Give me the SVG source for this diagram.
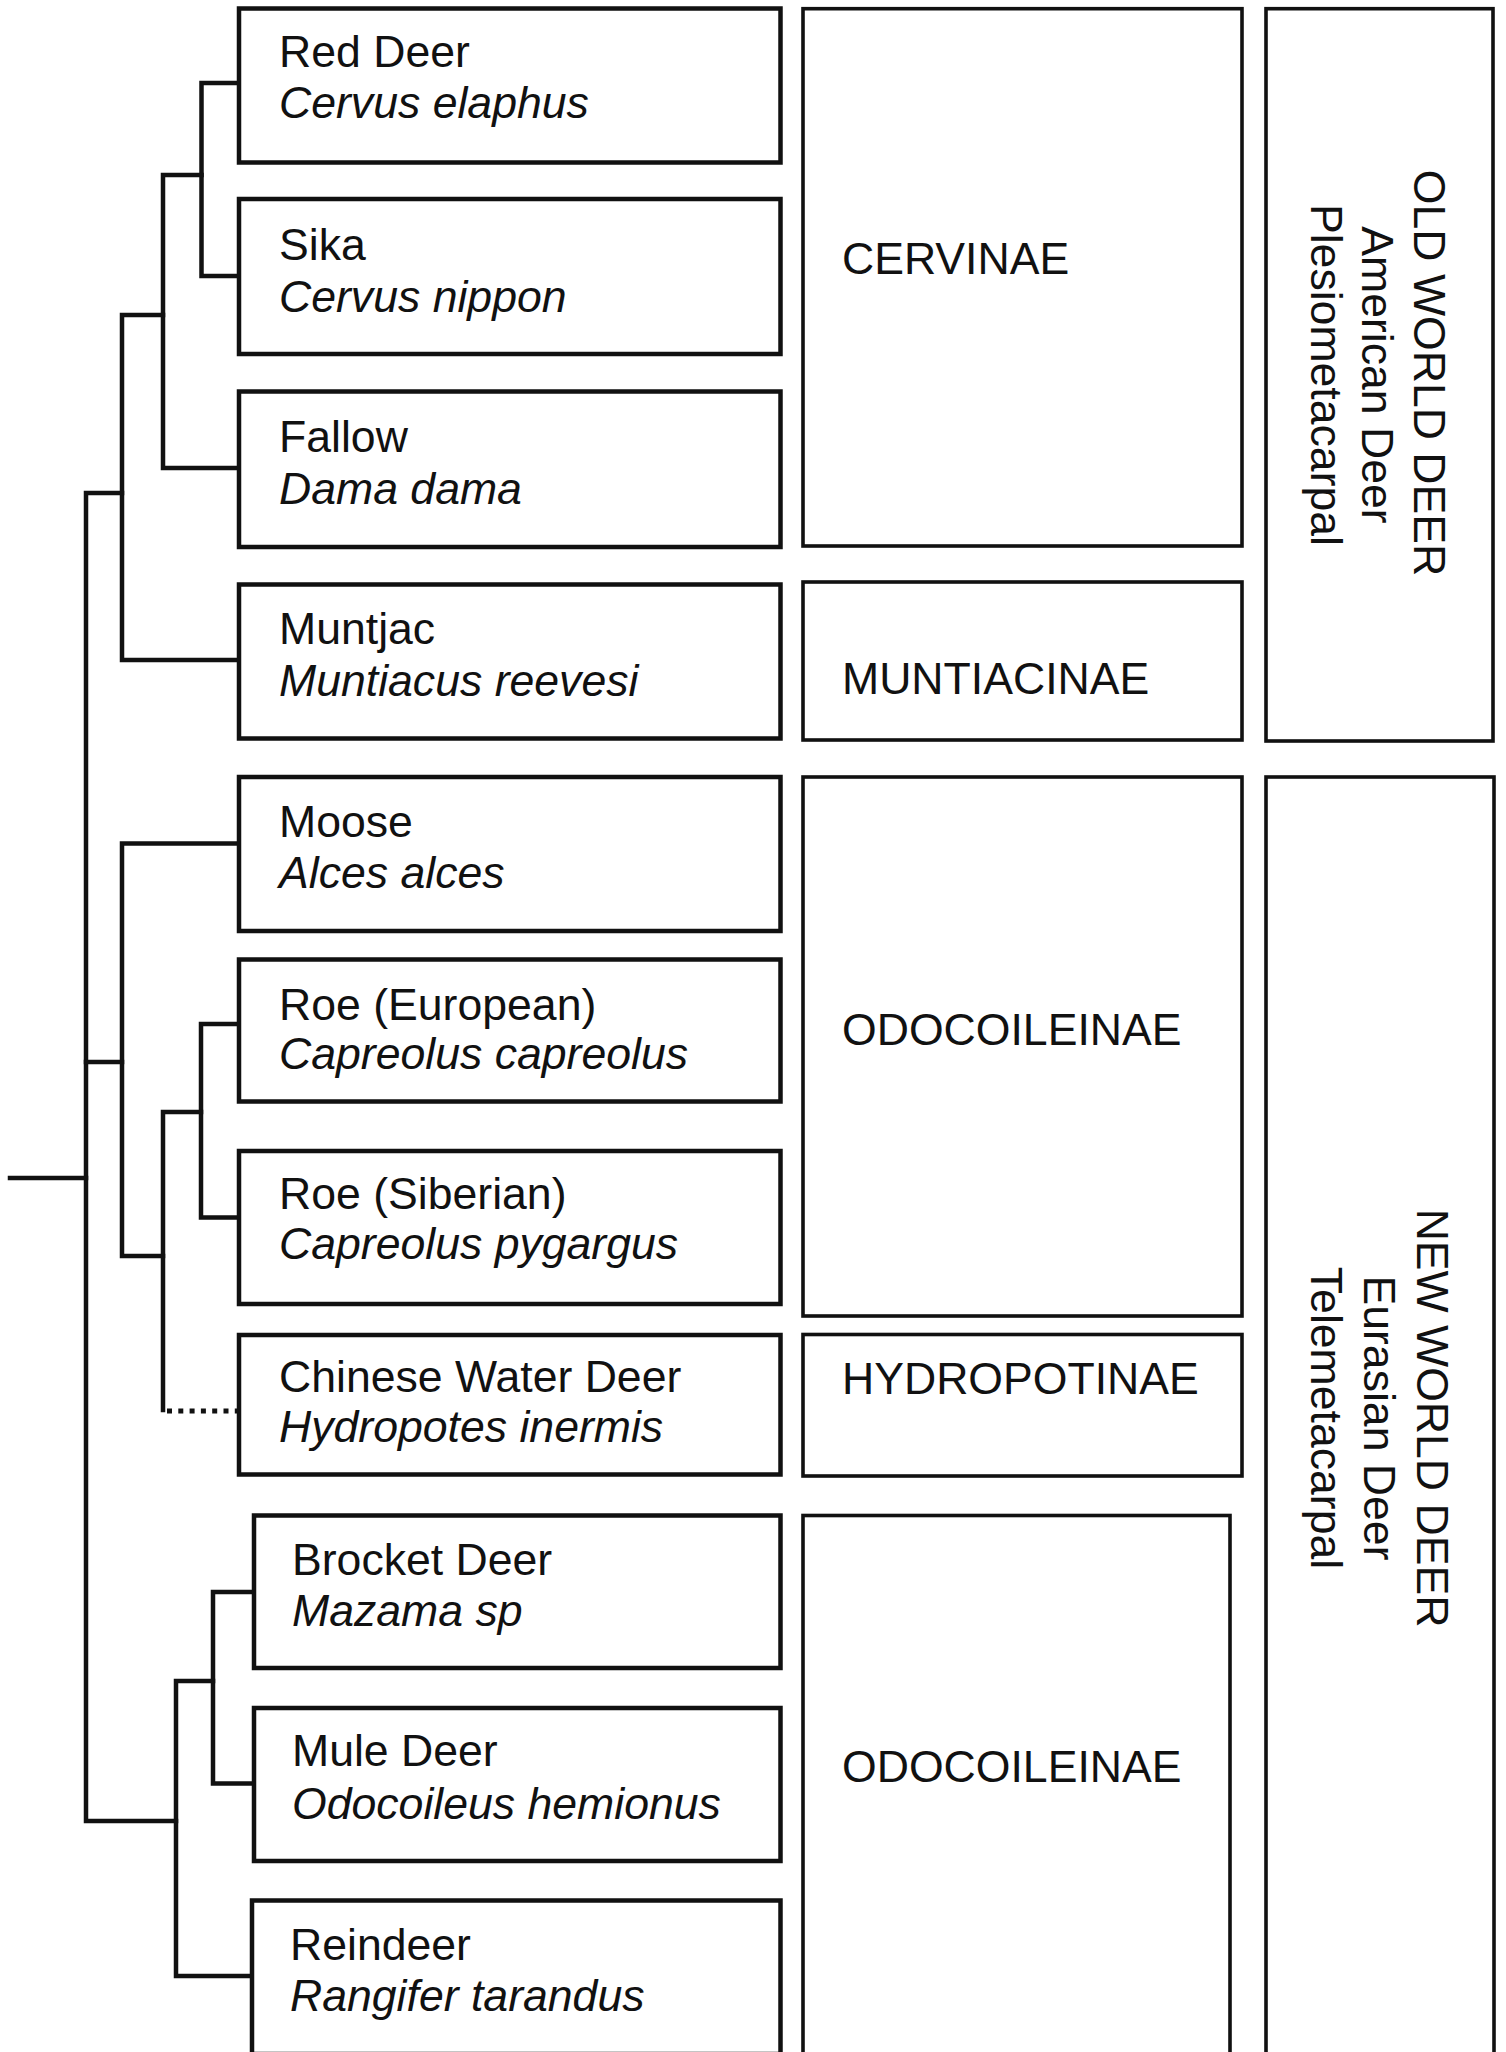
<svg xmlns="http://www.w3.org/2000/svg" width="1506" height="2052" viewBox="0 0 1506 2052">
<style>
.bg{fill:#fff}
.sp{fill:#fff;stroke:#111;stroke-width:4.5}
.fam{fill:#fff;stroke:#111;stroke-width:3.6}
.t{font-family:"Liberation Sans",Arial,sans-serif;font-size:44.6px;fill:#111}
.i{font-style:italic}
.ln{fill:none;stroke:#111;stroke-width:4.5;stroke-linecap:square;stroke-linejoin:miter}
.dot{fill:none;stroke:#111;stroke-width:5;stroke-dasharray:5 6.3}
</style>
<rect class="bg" x="0" y="0" width="1506" height="2052"/>
<g id="connectors">
<path class="ln" d="M239,83 H201.5 V276 H239"/>
<path class="ln" d="M201.5,175 H163 V468 H239"/>
<path class="ln" d="M163,315 H122 V660 H239"/>
<path class="ln" d="M122,493 H86 V1821 H176"/>
<path class="ln" d="M10,1178 H86"/>
<path class="ln" d="M86,1062 H122"/>
<path class="ln" d="M239,843.5 H122 V1256 H163"/>
<path class="ln" d="M239,1024 H201 V1217.5 H239"/>
<path class="ln" d="M201,1112 H163 V1410"/>
<path class="dot" d="M167,1411 H239"/>
<path class="ln" d="M254,1592 H213 V1783.5 H254"/>
<path class="ln" d="M213,1681 H176 V1976 H252"/>
</g>
<g id="red-deer"><rect class="sp" x="239" y="8.5" width="541.5" height="154"/><text class="t" x="279" y="67">Red Deer</text><text class="t i" x="279" y="118">Cervus elaphus</text></g>
<g id="sika"><rect class="sp" x="239" y="199" width="541.5" height="155"/><text class="t" x="279" y="259.5">Sika</text><text class="t i" x="279" y="312">Cervus nippon</text></g>
<g id="fallow"><rect class="sp" x="239" y="391.5" width="541.5" height="155.5"/><text class="t" x="279" y="452">Fallow</text><text class="t i" x="279" y="503.5">Dama dama</text></g>
<g id="muntjac"><rect class="sp" x="239" y="584.5" width="541.5" height="154"/><text class="t" x="279" y="644">Muntjac</text><text class="t i" x="279" y="696">Muntiacus reevesi</text></g>
<g id="moose"><rect class="sp" x="239" y="777" width="541.5" height="154"/><text class="t" x="279" y="836.5">Moose</text><text class="t i" x="279" y="888">Alces alces</text></g>
<g id="roe-european"><rect class="sp" x="239" y="959.5" width="541.5" height="142"/><text class="t" x="279" y="1020">Roe (European)</text><text class="t i" x="279" y="1068.5">Capreolus capreolus</text></g>
<g id="roe-siberian"><rect class="sp" x="239" y="1151" width="541.5" height="153"/><text class="t" x="279" y="1208.5">Roe (Siberian)</text><text class="t i" x="279" y="1259">Capreolus pygargus</text></g>
<g id="chinese-water-deer"><rect class="sp" x="239" y="1335" width="541.5" height="139.5"/><text class="t" x="279" y="1392">Chinese Water Deer</text><text class="t i" x="279" y="1441.5">Hydropotes inermis</text></g>
<g id="brocket-deer"><rect class="sp" x="254" y="1515.5" width="526.5" height="152.5"/><text class="t" x="292" y="1574.5">Brocket Deer</text><text class="t i" x="292" y="1625.5">Mazama sp</text></g>
<g id="mule-deer"><rect class="sp" x="254" y="1708" width="526.5" height="153"/><text class="t" x="292" y="1766">Mule Deer</text><text class="t i" x="292" y="1818.5">Odocoileus hemionus</text></g>
<g id="reindeer"><rect class="sp" x="252" y="1900.5" width="528.5" height="153.5"/><text class="t" x="290" y="1959.5">Reindeer</text><text class="t i" x="290" y="2010.5">Rangifer tarandus</text></g>
<g id="cervinae"><rect class="fam" x="803" y="8.7" width="439" height="537.3"/><text class="t" x="842" y="274">CERVINAE</text></g>
<g id="muntiacinae"><rect class="fam" x="803" y="582" width="439" height="158"/><text class="t" x="842" y="694">MUNTIACINAE</text></g>
<g id="odocoileinae-1"><rect class="fam" x="803" y="777" width="439" height="539"/><text class="t" x="842" y="1045">ODOCOILEINAE</text></g>
<g id="hydropotinae"><rect class="fam" x="803" y="1334.5" width="439" height="141.5"/><text class="t" x="842" y="1394">HYDROPOTINAE</text></g>
<g id="odocoileinae-2"><rect class="fam" x="803" y="1515.5" width="427" height="541"/><text class="t" x="842" y="1782">ODOCOILEINAE</text></g>
<g id="old-world-deer"><rect class="fam" x="1266" y="8.7" width="227" height="732.3"/>
<text class="t" text-anchor="middle" transform="translate(1414,373) rotate(90)">OLD WORLD DEER</text>
<text class="t" text-anchor="middle" transform="translate(1362,375) rotate(90)">American Deer</text>
<text class="t" text-anchor="middle" transform="translate(1311,375) rotate(90)">Plesiometacarpal</text></g>
<g id="new-world-deer"><rect class="fam" x="1266" y="777" width="228" height="1283"/>
<text class="t" text-anchor="middle" transform="translate(1417,1418) rotate(90)">NEW WORLD DEER</text>
<text class="t" text-anchor="middle" transform="translate(1364,1418) rotate(90)">Eurasian Deer</text>
<text class="t" text-anchor="middle" transform="translate(1311,1418) rotate(90)">Telemetacarpal</text></g>
</svg>
